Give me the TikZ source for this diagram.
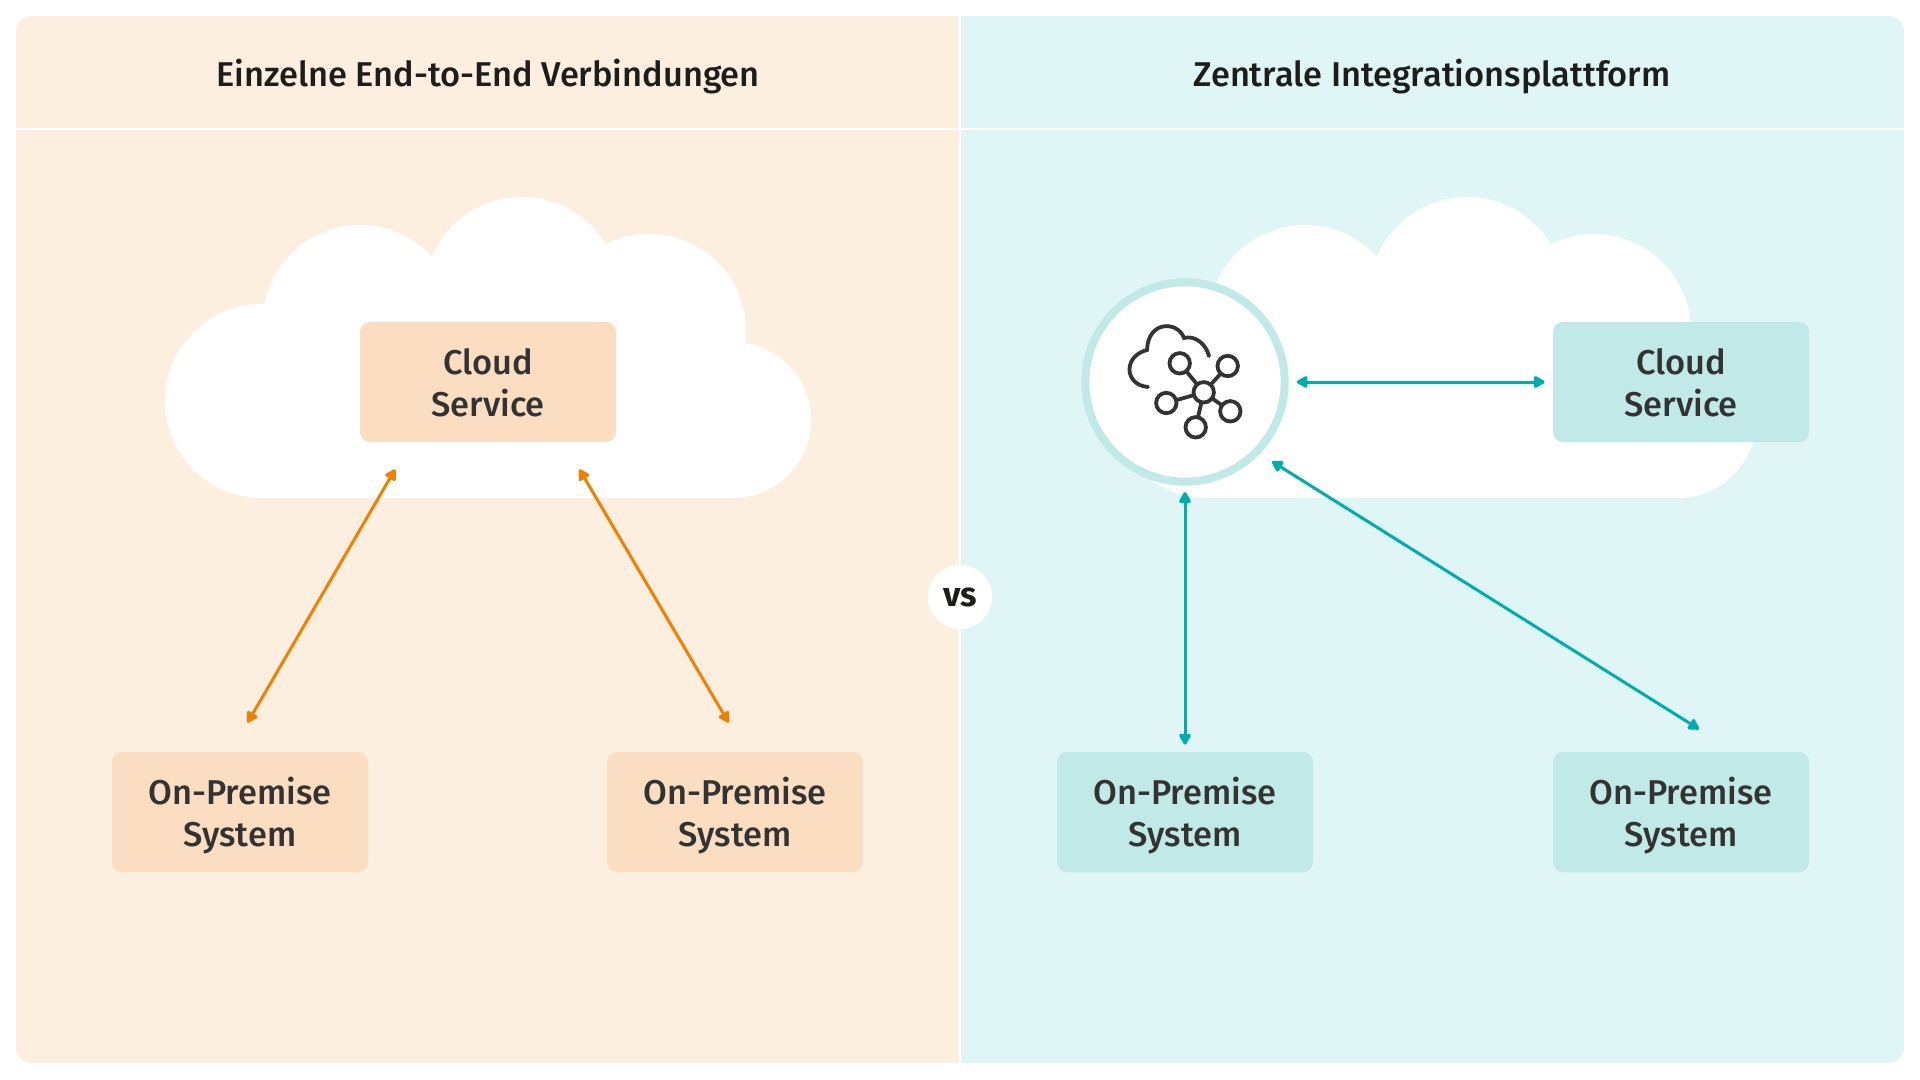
\documentclass[tikz,border=0pt]{standalone}
\usepackage{fontspec}
\setmainfont{Fira Sans}[BoldFont={Fira Sans Bold},Ligatures=TeX]
\newfontfamily\mediumfont{Fira Sans Medium}
\usetikzlibrary{arrows.meta,calc}
\definecolor{warmbg}{HTML}{FDEFE0}
\definecolor{coolbg}{HTML}{DFF5F6}
\definecolor{warmbox}{HTML}{FBDEC1}
\definecolor{coolbox}{HTML}{C0E9E7}
\definecolor{warmline}{HTML}{F08000}
\definecolor{coolline}{HTML}{00ADAB}
\definecolor{inktext}{HTML}{333333}
\definecolor{inkhead}{HTML}{1D1D1B}
% Two-line box label with fixed vertical metrics, so descenders do not move it
\newcommand{\twolines}[2]{\rule{0pt}{19.5pt}#1\\\rule[-6pt]{0pt}{6pt}#2}
\tikzset{
  x=0.5pt,y=-0.5pt,
  sysbox/.style={rectangle,rounded corners=5pt,minimum width=128pt,minimum height=60pt,inner sep=0pt,
    align=center,text=inktext,font=\mediumfont\fontsize{17.2}{21}\selectfont},
  warm/.style={sysbox,fill=warmbox},
  cool/.style={sysbox,fill=coolbox},
  headline/.style={text=inkhead,font=\mediumfont\fontsize{17.2}{20}\selectfont,inner sep=0pt},
  link/.style={line width=1.5pt,{Triangle[length=6.2pt,width=6.5pt,round]}-{Triangle[length=6.2pt,width=6.5pt,round]}},
  warmlink/.style={link,draw=warmline},
  coollink/.style={link,draw=coolline},
  glyph/.style={draw=inktext,line width=1.9pt,line cap=round},
  cloudpart/.style={fill=white,draw=none}
}
% White cloud outline built from overlapping discs, placed at a horizontal offset
\newcommand{\whitecloud}[1]{%
  \begin{scope}[shift={(#1,0)}]
    \fill[cloudpart] (262,401) circle[radius=97];
    \fill[cloudpart] (360,322) circle[radius=97];
    \fill[cloudpart] (522,295) circle[radius=98];
    \fill[cloudpart] (649,331) circle[radius=97];
    \fill[cloudpart] (733,420) circle[radius=78];
    \fill[cloudpart] (262,340) rectangle (733,498);
  \end{scope}}
\begin{document}
\begin{tikzpicture}
\useasboundingbox (0,0) rectangle (1920,1080);
\fill[white] (0,0) rectangle (1920,1080);
% Two coloured panels sharing one rounded outline
\begin{scope}
  \clip[rounded corners=8pt] (16,16) rectangle (1904,1063);
  \fill[warmbg] (16,16) rectangle (960,1063);
  \fill[coolbg] (960,16) rectangle (1904,1063);
\end{scope}
\fill[white] (16,128) rectangle (1904,130);
\fill[white] (959,16) rectangle (961,1063);

\node[headline] (titleL) at (488,76.5) {Einzelne End-to-End Verbindungen};
\node[headline] (titleR) at (1432,76.5) {Zentrale Integrationsplattform};

\whitecloud{0}
\whitecloud{945}

% Left panel: direct connections
\node[warm] (csL) at (488,382) {\twolines{Cloud}{Service}};
\node[warm] (opA) at (240,812) {\twolines{On-Premise}{System}};
\node[warm] (opB) at (735,812) {\twolines{On-Premise}{System}};

\coordinate (csLa) at ([shift={(35.5,27)}]csL.south west);
\coordinate (csLb) at ([shift={(-37,27)}]csL.south east);
\coordinate (opAt) at ([shift={(136,-29)}]opA.north west);
\coordinate (opBt) at ([shift={(122,-29)}]opB.north west);
\draw[warmlink] (opAt) -- (csLa);
\draw[warmlink] (opBt) -- (csLb);

% Right panel: everything passes through the hub
\node[cool] (csR) at (1681,382) {\twolines{Cloud}{Service}};
\node[cool] (opC) at (1185,812) {\twolines{On-Premise}{System}};
\node[cool] (opD) at (1681,812) {\twolines{On-Premise}{System}};
\node[circle,fill=white,draw=coolbox,line width=4pt,minimum size=99.7pt,inner sep=0pt] (hub) at (1185,382) {};

\coordinate (hubD) at ([shift={(87,79.5)}]hub.center);
\coordinate (opDt) at ([shift={(18,-22.5)}]opD.north);
\draw[coollink] ([xshift=4pt]hub.east) -- ([xshift=-4pt]csR.west);
\draw[coollink] ([yshift=-3.2pt]hub.south) -- ([yshift=3.5pt]opC.north);
\draw[coollink] (hubD) -- (opDt);

% Hub pictogram: cloud outline with a small network
\begin{scope}[glyph]
  \draw (1209,356) .. controls (1206,344) and (1195,335) .. (1184,338)
        .. controls (1178,321) and (1148,320) .. (1147,350)
        .. controls (1123,356) and (1124,385) .. (1148,387);
  \coordinate (nc) at (1203.7,392.3);
  \foreach \px/\py in {1179.7/363.3, 1227.7/366, 1166.3/403, 1230.3/411.3, 1195.7/427.3}{
    \draw (nc) -- (\px,\py);
    \filldraw[fill=white] (\px,\py) circle[radius=10.2];
  }
  \filldraw[fill=white] (nc) circle[radius=10.2];
\end{scope}

% Comparison badge on the divider
\node[circle,fill=white,minimum size=32pt,inner sep=0pt,text=inkhead,
      font=\bfseries\fontsize{17}{20}\selectfont] (vs) at (960,597) {vs};
\end{tikzpicture}
\end{document}
